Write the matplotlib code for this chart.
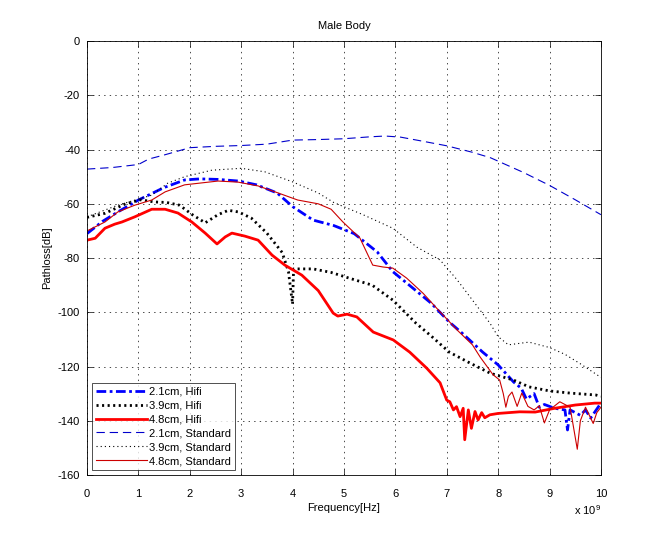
import matplotlib
matplotlib.use("Agg")
import matplotlib.pyplot as plt
from matplotlib.ticker import ScalarFormatter
import numpy as np

plt.rcParams['font.family'] = ['Liberation Sans', 'DejaVu Sans']
plt.rcParams['font.size'] = 8
plt.rcParams['lines.scale_dashes'] = False
plt.rcParams['axes.unicode_minus'] = False

# frequencies in GHz, path loss in dB
f_hifi_21 = [0, 0.3, 0.6, 1.0, 1.5, 1.9, 2.2, 2.55, 2.95, 3.3, 3.7, 4.0, 4.4, 4.8, 5.2,
             5.65, 5.95, 6.4, 6.7, 7.05, 7.3, 7.7, 8.0, 8.3, 8.45, 8.55, 8.7, 8.8, 8.9,
             9.1, 9.3, 9.35, 9.4, 9.6, 9.7, 9.8, 10]
pl_hifi_21 = [-71, -66.5, -63, -58.6, -54, -51.2, -50.8, -51, -51.6, -53, -56, -61, -66,
              -68, -71, -77.8, -85, -92, -96.7, -103.6, -107.7, -114.7, -119.4, -125.7,
              -128, -132, -130, -135, -134, -135.4, -136, -143.4, -136, -138, -136, -139,
              -133.5]

f_hifi_39 = [0, 0.35, 0.75, 1.05, 1.3, 1.55, 1.8, 2.05, 2.3, 2.55, 2.75, 2.95, 3.2, 3.5,
             3.8, 3.92, 4.0, 4.02, 4.4, 4.75, 5.1, 5.55, 5.95, 6.4, 6.7, 7.05, 7.45, 7.85,
             8.3, 8.6, 9.0, 9.4, 9.9, 10]
pl_hifi_39 = [-65, -63.5, -60, -58.5, -59.3, -59.5, -60.5, -64, -67, -64, -62.4, -63, -65.3,
              -70.8, -78, -85, -97, -84, -84, -85.3, -87.4, -90, -95.5, -104, -108.8, -114.7,
              -118.7, -122.5, -125, -127.5, -129, -129.8, -130.5, -131]

f_hifi_48 = [0, 0.16, 0.35, 0.54, 0.68, 0.93, 1.26, 1.52, 1.77, 2.04, 2.3, 2.53, 2.69, 2.82,
             3.07, 3.33, 3.6, 3.85, 4.18, 4.5, 4.79, 4.88, 5.06, 5.25, 5.57, 5.96, 6.28,
             6.61, 6.87, 7.0, 7.06, 7.13, 7.19, 7.26, 7.32, 7.35, 7.42, 7.48, 7.55, 7.61,
             7.68, 7.74, 7.84, 8.0, 8.42, 8.72, 9.1, 9.5, 9.88, 10]
pl_hifi_48 = [-73.4, -72.7, -69, -67.5, -66.7, -64.8, -62, -62, -63.4, -66.7, -70.8, -74.8,
              -72.2, -70.8, -71.9, -73.4, -78.9, -82.6, -86.3, -92, -100.3, -101.4, -100.7,
              -101.7, -107.3, -110.2, -114.7, -120.6, -126, -132.4, -133, -136, -134.8,
              -138.5, -135.4, -147, -136, -142.8, -136.6, -139.7, -137, -138.9, -137.8,
              -137.3, -136.7, -136.8, -135.4, -134.2, -133.5, -133.5]

f_std_21 = [0, 0.5, 1, 1.2, 1.5, 2, 2.5, 3, 3.5, 4, 4.5, 5, 5.5, 5.8, 6.1, 6.5, 7, 7.5,
            7.85, 8.5, 9, 9.5, 10]
pl_std_21 = [-47.2, -46.6, -45.5, -43.5, -42, -39.3, -38.8, -38.5, -38, -36.5, -36.3, -36,
             -35.3, -35, -35.4, -36.8, -38.6, -41, -43, -48.5, -53.2, -58.5, -64]

f_std_39 = [0, 0.6, 1.26, 1.57, 1.9, 2.43, 3.0, 3.46, 4.0, 4.5, 4.8, 5.37, 5.95, 6.42, 6.87,
            7.2, 7.5, 7.84, 8.0, 8.2, 8.6, 9.0, 9.3, 9.6, 10]
pl_std_39 = [-64.8, -60.5, -56.8, -52.4, -50, -47.6, -46.9, -48.2, -51.9, -56, -59.5, -64,
             -69, -76, -80.7, -88, -95.5, -104, -109, -112, -111, -113, -115.5, -119, -124]

f_std_48 = [0, 0.35, 0.6, 0.93, 1.26, 1.52, 1.9, 2.55, 2.94, 3.33, 3.72, 4.1, 4.5, 4.75,
            4.98, 5.31, 5.56, 5.76, 5.95, 6.22, 6.54, 6.8, 7.2, 7.5, 7.65, 7.9, 8.03, 8.1,
            8.15, 8.2, 8.27, 8.37, 8.46, 8.58, 8.7, 8.8, 8.9, 9.0, 9.2, 9.4, 9.54, 9.6,
            9.7, 9.85, 9.92, 10]
pl_std_48 = [-70, -66.7, -63, -60.5, -58.6, -55.6, -53, -51.6, -52, -53.4, -56, -58.6, -60,
             -62, -66.7, -72.6, -82.6, -83.3, -83.7, -87.4, -93, -98.4, -106.5, -112, -116.5,
             -123, -125, -130, -135, -131, -129.4, -134.7, -129.8, -134.7, -136, -134.5,
             -140.8, -136, -133, -135, -150.5, -140, -135, -141, -137, -135]

labels = ['2.1cm, Hifi', '3.9cm, Hifi', '4.8cm, Hifi',
          '2.1cm, Standard', '3.9cm, Standard', '4.8cm, Standard']


class GigaFormatter(ScalarFormatter):
    # fixed 10^9 scale, matlab-like "x 10^9" offset label
    def _set_order_of_magnitude(self):
        self.orderOfMagnitude = 9

    def get_offset(self):
        return r'x $\mathregular{10^{9}}$'


fig = plt.figure(figsize=(6.64, 5.34), dpi=100)
ax = fig.add_axes([0.131, 0.1105, 0.774, 0.8125])

g = 1e9
ax.plot(np.array(f_hifi_21) * g, pl_hifi_21, color='#0000ff', lw=2,
        linestyle=(0, (7, 2.5, 2, 2.5)), label=labels[0])
ax.plot(np.array(f_hifi_39) * g, pl_hifi_39, color='k', lw=2,
        linestyle=(0, (1.5, 2.5)), label=labels[1])
ax.plot(np.array(f_hifi_48) * g, pl_hifi_48, color='#ff0000', lw=2, label=labels[2])
ax.plot(np.array(f_std_21) * g, pl_std_21, color='#0000cc', lw=0.8,
        linestyle=(0, (6, 3.5)), label=labels[3])
ax.plot(np.array(f_std_39) * g, pl_std_39, color='k', lw=0.8,
        linestyle=(0, (0.8, 2.2)), label=labels[4])
ax.plot(np.array(f_std_48) * g, pl_std_48, color='#cc0000', lw=0.8, label=labels[5])

ax.set_xlim(0, 10e9)
ax.set_ylim(-160, 0)
ax.set_xticks(np.arange(0, 11) * g)
ax.set_yticks(np.arange(-160, 1, 20))
ax.xaxis.set_major_formatter(GigaFormatter())
ax.grid(True, color='k', linestyle=(0, (1, 3)), linewidth=0.5)
ax.tick_params(direction='in', top=True, right=True, length=4, width=0.5)
ax.tick_params(axis='x', pad=10)
ax.tick_params(axis='y', pad=5)
for s in ax.spines.values():
    s.set_linewidth(0.6)

ax.set_title('Male Body', fontsize=8, pad=9)
ax.set_xlabel('Frequency[Hz]', labelpad=3)
ax.set_ylabel('Pathloss[dB]', labelpad=4)

leg = ax.legend(loc='lower left', fontsize=8, handlelength=4.6, handletextpad=0.2,
                fancybox=False, borderaxespad=0.45, labelspacing=0.35,
                borderpad=0.35)
leg.get_frame().set_edgecolor('k')
leg.get_frame().set_linewidth(0.6)

fig.savefig('out.png', dpi=100)
